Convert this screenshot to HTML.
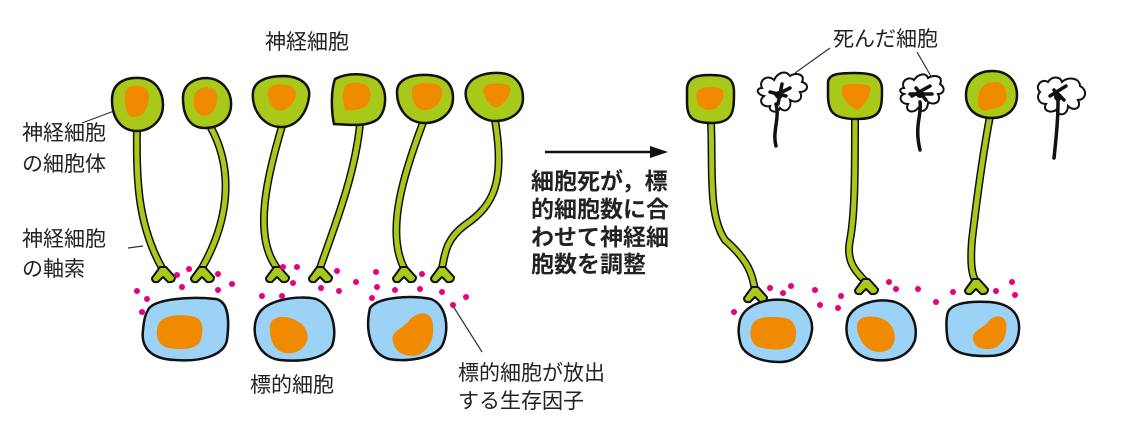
<!DOCTYPE html>
<html><head><meta charset="utf-8"><style>
html,body{margin:0;padding:0;background:#fff;}
svg{display:block}
text{font-family:"Liberation Sans","Noto Sans CJK JP",sans-serif;fill:#222;}
</style></head><body>
<svg width="1126" height="426" viewBox="0 0 1126 426" xmlns="http://www.w3.org/2000/svg">
<defs>
<g id="term"><path d="M-3,-3 L-11,8 Q-11,13 -5,12 L0,7 L5,12 Q12,13 12,7 L3,-3 Z" fill="#a9c91a" stroke="#111" stroke-width="2" stroke-linejoin="round"/></g>
</defs>
<g font-size="21">
<text x="265" y="49">神経細胞</text>
<text x="22" y="140">神経細胞</text>
<text x="22" y="171">の細胞体</text>
<text x="22" y="246">神経細胞</text>
<text x="22" y="276">の軸索</text>
<text x="250" y="392">標的細胞</text>
<text x="458" y="380">標的細胞が放出</text>
<text x="458" y="408">する生存因子</text>
<text x="833" y="46">死んだ細胞</text>
</g>
<g font-size="23" font-weight="bold">
<text x="531" y="189">細胞死が，標</text>
<text x="531" y="217">的細胞数に合</text>
<text x="531" y="245">わせて神経細</text>
<text x="531" y="272">胞数を調整</text>
</g>
<g stroke="#333" stroke-width="1.2" fill="none">
<line x1="82" y1="123" x2="114" y2="111"/>
<line x1="128" y1="248" x2="143" y2="246"/>
<line x1="453" y1="306" x2="482" y2="352"/>
<line x1="830" y1="48" x2="795" y2="73"/>
<line x1="917" y1="52" x2="932" y2="78"/>
</g>
<line x1="545" y1="152" x2="652" y2="152" stroke="#111" stroke-width="2.5"/>
<polygon points="650,146 668,152 650,158" fill="#111"/>

<g fill="none" stroke-linecap="round">
<g stroke="#111" stroke-width="8">
<path d="M137,128 C136,180 138,225 162,268"/>
<path d="M210,126 C232,165 232,215 202,268"/>
<path d="M282,126 C268,175 252,235 277,268"/>
<path d="M360,124 C355,175 335,225 320,268"/>
<path d="M424,120 C405,170 385,230 404,268"/>
<path d="M495,120 C505,180 495,205 465,225 C445,240 445,255 442,268"/>
<path d="M711,122 C713,170 708,215 725,240 C750,262 752,275 755,290"/>
<path d="M855,120 C855,170 855,215 850,240 C845,265 860,275 866,282"/>
<path d="M990,116 C980,170 975,215 972,240 C970,265 972,275 976,282"/>
</g>
<g stroke="#a9c91a" stroke-width="5">
<path d="M137,128 C136,180 138,225 162,268"/>
<path d="M210,126 C232,165 232,215 202,268"/>
<path d="M282,126 C268,175 252,235 277,268"/>
<path d="M360,124 C355,175 335,225 320,268"/>
<path d="M424,120 C405,170 385,230 404,268"/>
<path d="M495,120 C505,180 495,205 465,225 C445,240 445,255 442,268"/>
<path d="M711,122 C713,170 708,215 725,240 C750,262 752,275 755,290"/>
<path d="M855,120 C855,170 855,215 850,240 C845,265 860,275 866,282"/>
<path d="M990,116 C980,170 975,215 972,240 C970,265 972,275 976,282"/>
</g>
</g>
<use href="#term" x="163" y="270"/>
<use href="#term" x="202" y="270"/>
<use href="#term" x="277" y="270"/>
<use href="#term" x="320" y="270"/>
<use href="#term" x="404" y="270"/>
<use href="#term" x="442" y="270"/>
<use href="#term" x="755" y="290"/>
<use href="#term" x="866" y="282"/>
<use href="#term" x="976" y="282"/>

<g fill="#a9c91a" stroke="#111" stroke-width="2.5">
<path d="M112,100 C112,81 128,77 140,78 C156,79 163,92 163,105 C163,121 150,131 137,131 C121,131 112,118 112,100Z"/>
<path d="M183,98 C183,83 196,78 207,78 C223,79 232,92 231,106 C230,121 218,128 205,128 C189,128 183,115 183,98Z"/>
<path d="M253,92 C255,79 270,76 285,76 C301,77 311,85 309,97 C307,113 297,126 283,127 C264,128 251,110 253,92Z"/>
<path d="M335,79 C348,72 368,73 378,80 C388,90 387,110 378,119 C368,127 350,125 334,124 C331,110 331,90 335,79Z"/>
<path d="M397,92 C397,79 412,74 428,75 C446,76 453,85 453,98 C453,113 440,123 425,123 C407,123 397,108 397,92Z"/>
<path d="M466,90 C469,77 485,72 500,73 C516,74 523,85 523,98 C523,113 510,121 495,121 C479,121 463,105 466,90Z"/>
<path d="M687,88 C688,77 697,75 710,75 C727,75 734,78 734,92 C734,110 734,123 712,123 C689,123 687,115 687,100Z"/>
<path d="M828,82 C829,74 838,73 855,73 C873,73 882,76 882,90 C882,110 881,119 857,119 C833,119 828,112 828,95Z"/>
<path d="M966,95 C966,79 978,71 992,71 C1009,71 1017,82 1017,95 C1017,111 1005,118 992,118 C977,118 966,110 966,95Z"/>
</g>
<g fill="#f08a00">
<path d="M125,95 C125,87 132,85 140,86 C148,87 150,95 148,103 C146,113 140,118 133,117 C126,116 124,105 125,95Z"/>
<path d="M194,98 C195,89 203,86 211,88 C218,90 219,100 215,108 C211,116 203,118 198,113 C194,109 193,103 194,98Z"/>
<path d="M268,91 C269,84 280,83 290,86 C298,89 297,98 292,104 C286,111 278,113 274,108 C269,103 267,97 268,91Z"/>
<path d="M344,88 C346,82 358,81 366,85 C372,90 372,100 366,106 C360,110 350,111 345,110 C343,103 342,94 344,88Z"/>
<path d="M412,89 C413,83 425,82 436,84 C445,87 443,97 438,104 C432,110 424,112 418,108 C413,103 411,95 412,89Z"/>
<path d="M484,88 C485,83 498,82 508,85 C514,88 508,100 500,106 C494,110 489,104 485,97 C483,93 483,90 484,88Z"/>
<path d="M697,93 C699,86 712,86 722,89 C726,94 722,104 716,108 C709,112 700,109 698,103 C696,99 696,96 697,93Z"/>
<path d="M842,87 C845,83 860,83 870,86 C873,92 866,104 858,110 C851,108 843,100 842,93Z"/>
<path d="M978,100 C978,90 984,82 995,82 C1004,82 1008,90 1006,100 C1004,108 995,108 988,110 C981,112 978,108 978,100Z"/>
</g>

<g fill="#9dd2f7" stroke="#111" stroke-width="2.5">
<path d="M148,310 C153,299 190,296 216,299 C230,302 229,325 227,340 C224,356 200,362 175,360 C148,359 141,345 143,330 C144,320 145,315 148,310Z"/>
<path d="M258,315 C266,299 300,295 316,299 C332,305 338,330 332,346 C323,360 300,362 280,360 C256,357 250,330 258,315Z"/>
<path d="M370,308 C378,297 410,295 431,299 C447,305 450,330 442,346 C433,359 405,362 389,359 C370,354 365,330 370,308Z"/>
<path d="M740,320 C745,305 765,298 785,300 C805,303 813,318 812,330 C810,345 800,362 780,362 C760,362 745,355 741,345 C738,335 738,328 740,320Z"/>
<path d="M848,318 C855,302 880,298 895,302 C912,308 918,325 915,340 C910,355 895,362 875,360 C855,358 842,340 848,318Z"/>
<path d="M948,312 C952,303 970,301 990,302 C1012,304 1020,315 1019,330 C1018,345 1010,357 985,356 C960,356 948,350 947,335 C946,325 946,318 948,312Z"/>
</g>
<g fill="#f08a00">
<path d="M158,325 C162,315 180,313 195,317 C205,320 203,335 200,342 C195,350 180,350 168,348 C157,345 155,335 158,325Z"/>
<path d="M270,330 C268,318 280,315 290,318 C305,322 312,335 305,345 C298,355 285,355 278,350 C272,345 270,337 270,330Z"/>
<path d="M393,342 C390,332 400,330 408,322 C415,312 428,310 432,320 C436,335 430,350 418,355 C405,358 395,352 393,342Z"/>
<path d="M752,325 C756,316 770,316 785,318 C797,320 798,335 794,343 C788,352 770,350 758,347 C750,343 749,333 752,325Z"/>
<path d="M858,322 C862,314 878,315 888,322 C897,330 897,345 888,350 C877,355 866,350 861,340 C857,333 856,327 858,322Z"/>
<path d="M973,336 C975,330 983,328 988,322 C993,315 1003,314 1006,322 C1008,334 1003,345 994,348 C984,351 972,348 973,336Z"/>
</g>

<g fill="#fff" stroke="#111" stroke-width="2">
<path d="M762,88 C758,80 768,74 774,80 C778,72 786,70 790,76 C795,72 806,74 802,82 C810,84 808,92 800,92 C804,100 796,104 790,100 C792,108 786,114 780,108 C778,114 768,112 770,106 C762,108 758,100 764,96 C756,94 756,88 762,88Z"/>
<path d="M904,88 C900,80 910,76 914,80 C918,74 926,72 928,78 C934,74 944,76 940,84 C946,88 944,94 938,94 C942,102 934,106 928,102 C928,110 922,114 918,108 C914,114 904,112 908,104 C900,104 898,96 904,94 C898,92 900,88 904,88Z"/>
<path d="M1040,92 C1034,86 1042,78 1048,82 C1052,76 1060,76 1062,82 C1068,76 1080,78 1080,86 C1088,90 1086,100 1078,100 C1082,108 1074,112 1068,106 C1068,114 1060,118 1056,110 C1050,114 1042,110 1046,104 C1038,104 1036,96 1040,92Z"/>
</g>
<g stroke="#111" stroke-width="3.5" fill="none" stroke-linecap="round">
<path d="M776,95 L790,88 M770,92 L786,96 M782,84 L778,104 M776,104 C780,118 772,132 776,146"/>
<path d="M912,96 L930,86 M916,88 L926,100 M910,94 L932,94 M920,102 C922,115 914,125 920,150"/>
<path d="M1050,96 L1066,86 M1054,90 L1064,100 M1058,98 L1058,104 M1058,104 C1058,120 1056,140 1054,158"/>
</g>
<g fill="#111">
<circle cx="779" cy="95" r="4"/><circle cx="920" cy="94" r="4"/><circle cx="1058" cy="97" r="4"/>
</g>

<g fill="#e6007e">
<circle cx="177" cy="275" r="3"/><circle cx="189" cy="269" r="3"/><circle cx="182" cy="287" r="3"/>
<circle cx="218" cy="274" r="3"/><circle cx="232" cy="284" r="3"/><circle cx="218" cy="290" r="3"/>
<circle cx="137" cy="291" r="3"/><circle cx="147" cy="299" r="3"/><circle cx="142" cy="312" r="3"/>
<circle cx="283" cy="267" r="3"/><circle cx="297" cy="267" r="3"/><circle cx="293" cy="283" r="3"/>
<circle cx="262" cy="296" r="3"/><circle cx="282" cy="296" r="3"/><circle cx="321" cy="288" r="3"/>
<circle cx="337" cy="271" r="3"/><circle cx="339" cy="291" r="3"/><circle cx="356" cy="282" r="3"/>
<circle cx="376" cy="272" r="3"/><circle cx="377" cy="287" r="3"/><circle cx="372" cy="298" r="3"/>
<circle cx="395" cy="290" r="3"/><circle cx="422" cy="274" r="3"/><circle cx="420" cy="289" r="3"/>
<circle cx="442" cy="292" r="3"/><circle cx="466" cy="297" r="3"/><circle cx="453" cy="305" r="3"/>
<circle cx="770" cy="288" r="3"/><circle cx="791" cy="286" r="3"/><circle cx="783" cy="293" r="3"/>
<circle cx="734" cy="312" r="3"/><circle cx="815" cy="290" r="3"/><circle cx="820" cy="305" r="3"/>
<circle cx="841" cy="296" r="3"/><circle cx="838" cy="308" r="3"/><circle cx="889" cy="282" r="3"/>
<circle cx="896" cy="289" r="3"/><circle cx="918" cy="289" r="3"/><circle cx="936" cy="302" r="3"/>
<circle cx="953" cy="292" r="3"/><circle cx="996" cy="291" r="3"/><circle cx="1012" cy="282" r="3"/>
<circle cx="1015" cy="295" r="3"/>
</g>
</svg>
</body></html>
